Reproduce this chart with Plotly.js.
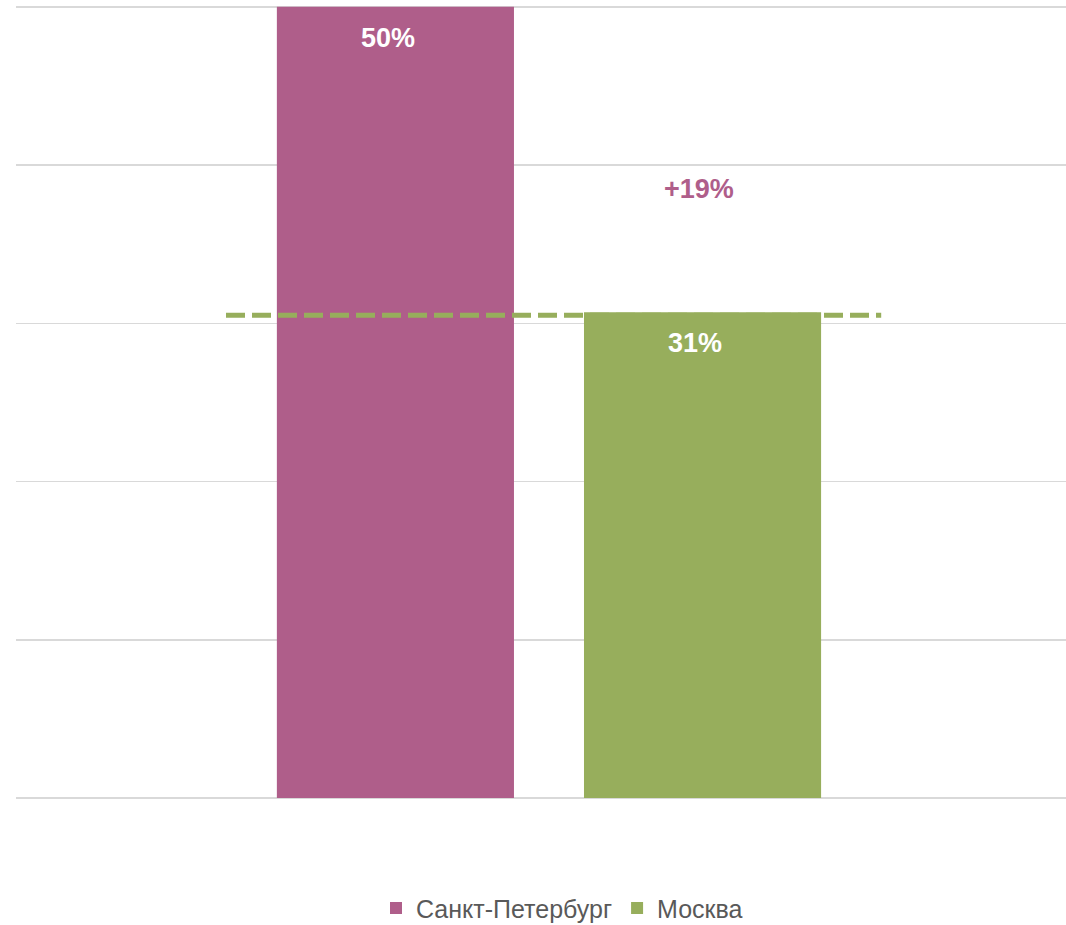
<!DOCTYPE html>
<html>
<head>
<meta charset="utf-8">
<script src="https://cdn.plot.ly/plotly-3.0.1.min.js"></script>
<style>
html,body{margin:0;padding:0;background:#fff;}
#chart{width:1066px;height:925px;}
</style>
</head>
<body>
<div id="chart"></div>
<script>
const categories = [""];
const seriesNames = ["Санкт-Петербург", "Москва"];
const spbValues = [50];
const mskValues = [30.7];
const colors = ["#AF5E8A", "#97AE5C"];
const yTicks = [0, 10, 20, 30, 40, 50];

const diff = spbValues[0] - mskValues[0];
const fontFam = "Liberation Sans, Arial, sans-serif";

const traces = [
  {type: "bar", name: seriesNames[0], x: categories, y: spbValues,
   marker: {color: colors[0]}, hoverinfo: "none"},
  {type: "bar", name: seriesNames[1], x: categories, y: mskValues,
   marker: {color: colors[1]}, hoverinfo: "none"}
];

const barOffset = 153.5;
const annotations = [
  {x: categories[0], y: spbValues[0], xref: "x", yref: "y", xshift: -barOffset, yshift: -14,
   yanchor: "top", showarrow: false, text: "<b>" + Math.round(spbValues[0]) + "%</b>",
   font: {family: fontFam, size: 27, color: "#ffffff"}},
  {x: categories[0], y: mskValues[0], xref: "x", yref: "y", xshift: barOffset, yshift: -14,
   yanchor: "top", showarrow: false, text: "<b>" + Math.round(mskValues[0]) + "%</b>",
   font: {family: fontFam, size: 27, color: "#ffffff"}},
  {x: categories[0], y: (spbValues[0] + mskValues[0]) / 2, xref: "x", yref: "y", xshift: barOffset + 4, yshift: -30,
   yanchor: "middle", showarrow: false, text: "<b>+" + Math.round(diff) + "%</b>",
   font: {family: fontFam, size: 27, color: colors[0]}}
];

const layout = {
  width: 1066, height: 925,
  margin: {l: 16, r: 0, t: 2, b: 127, autoexpand: false},
  paper_bgcolor: "#ffffff", plot_bgcolor: "#ffffff",
  barmode: "group", bargap: 0.415, bargroupgap: 0.228,
  font: {family: fontFam, color: "#595959"},
  xaxis: {type: "category", range: [-0.5076, 0.4924], showticklabels: false,
          showgrid: false, zeroline: false, showline: false, fixedrange: true},
  yaxis: {range: [0, 50.3], tickvals: yTicks, showticklabels: false, showgrid: true,
          gridcolor: "#d9d9d9", gridwidth: 1.5, zeroline: true, zerolinecolor: "#d9d9d9",
          zerolinewidth: 1.5, showline: false, fixedrange: true},
  showlegend: true,
  legend: {orientation: "h", x: 0.52, xanchor: "center", y: -0.1385, yanchor: "middle",
           font: {family: fontFam, size: 25, color: "#595959"}, traceorder: "normal"},
  shapes: [
    {type: "line", xref: "paper", yref: "y", x0: 0.2, x1: 0.824,
     y0: mskValues[0] - 0.2, y1: mskValues[0] - 0.2,
     line: {color: colors[1], width: 5, dash: "19px,7px"}}
  ],
  annotations: annotations
};

Plotly.newPlot("chart", traces, layout, {displayModeBar: false, staticPlot: true});
</script>
</body>
</html>
